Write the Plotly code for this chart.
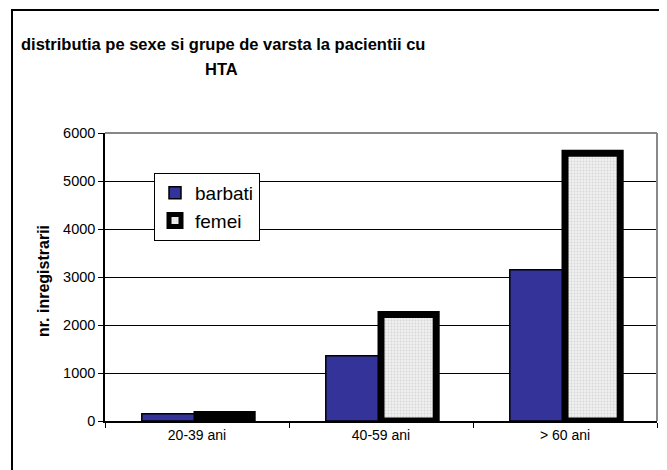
import plotly.graph_objects as go

categories = ["20-39 ani", "40-59 ani", "> 60 ani"]
barbati = [150, 1360, 3150]
femei = [135, 2220, 5580]
y_ticks = [0, 1000, 2000, 3000, 4000, 5000, 6000]

FONT = "Arial, 'Liberation Sans', sans-serif"

OFF = 8  # page body margin offset
W, H = 667 - OFF, 470 - OFF
# target plot area in window pixels: x 105..657, y 133..421
L, T = 105 - OFF, 133 - OFF
R = W - (657 - OFF)
B = H - (421 - OFF)
PW, PH = W - L - R, H - T - B

def px(x):
    return (x - OFF - L) / PW

def py(y):
    return (H - B - (y - OFF)) / PH

fig = go.Figure()
fig.add_trace(go.Bar(
    x=categories, y=barbati, name="barbati",
    marker=dict(color="#333399", line=dict(color="black", width=1.5)),
))
fig.add_trace(go.Bar(
    x=categories, y=femei, name="femei",
    marker=dict(color="#eeeeee", line=dict(color="black", width=7),
                pattern=dict(shape=".", size=3, solidity=0.3,
                             fgcolor="#bbbbbb", bgcolor="#f0f0f0")),
))

fig.update_layout(
    width=W, height=H,
    margin=dict(l=L, r=R, t=T, b=B, autoexpand=False),
    paper_bgcolor="white", plot_bgcolor="white",
    barmode="group", bargap=0.4, bargroupgap=0,
    font=dict(family=FONT, color="black", size=14),
    showlegend=True,
    legend=dict(x=px(154), y=py(173), xanchor="left", yanchor="top",
                bgcolor="white", bordercolor="black", borderwidth=1,
                font=dict(size=19, family=FONT), itemwidth=30,
                tracegroupgap=0),
    hovermode=False,
)
fig.update_xaxes(
    type="category", showline=True, linecolor="black", linewidth=1.5,
    ticks="outside", ticklen=5, tickcolor="black", tickwidth=1,
    tickson="boundaries", showgrid=False, automargin=False,
    tickfont=dict(size=14, family=FONT),
)
fig.update_yaxes(
    range=[0, 6000], tickvals=y_ticks, showline=True, linecolor="black",
    linewidth=1.5, ticks="outside", ticklen=5, tickcolor="black",
    showgrid=True, gridcolor="black", gridwidth=1, zeroline=False,
    automargin=False, tickfont=dict(size=14.5, family=FONT),
)

# plot area gray border (top and right)
fig.add_shape(type="line", xref="paper", yref="paper", x0=0, x1=1, y0=1, y1=1,
              line=dict(color="#888888", width=2), layer="above")
fig.add_shape(type="line", xref="paper", yref="paper", x0=1, x1=1, y0=0, y1=1,
              line=dict(color="#888888", width=2), layer="above")
# outer chart frame (left and top edges visible)
fig.add_shape(type="path", xref="paper", yref="paper",
              path=f"M {px(12)},{py(480)} L {px(12)},{py(10)} L {px(680)},{py(10)}",
              line=dict(color="black", width=2), layer="above")

# title
fig.add_annotation(text="<b>distributia pe sexe si grupe de varsta la pacientii cu</b>",
                   xref="paper", yref="paper", x=px(223), y=py(44),
                   xanchor="center", yanchor="middle", showarrow=False,
                   font=dict(size=16.5, family=FONT))
fig.add_annotation(text="<b>HTA</b>",
                   xref="paper", yref="paper", x=px(221), y=py(69),
                   xanchor="center", yanchor="middle", showarrow=False,
                   font=dict(size=16.5, family=FONT))
# y axis title
fig.add_annotation(text="<b>nr. inregistrarii</b>", textangle=-90,
                   xref="paper", yref="paper", x=px(43), y=py(281),
                   xanchor="center", yanchor="middle", showarrow=False,
                   font=dict(size=16, family=FONT))

fig.write_html("out.html")
